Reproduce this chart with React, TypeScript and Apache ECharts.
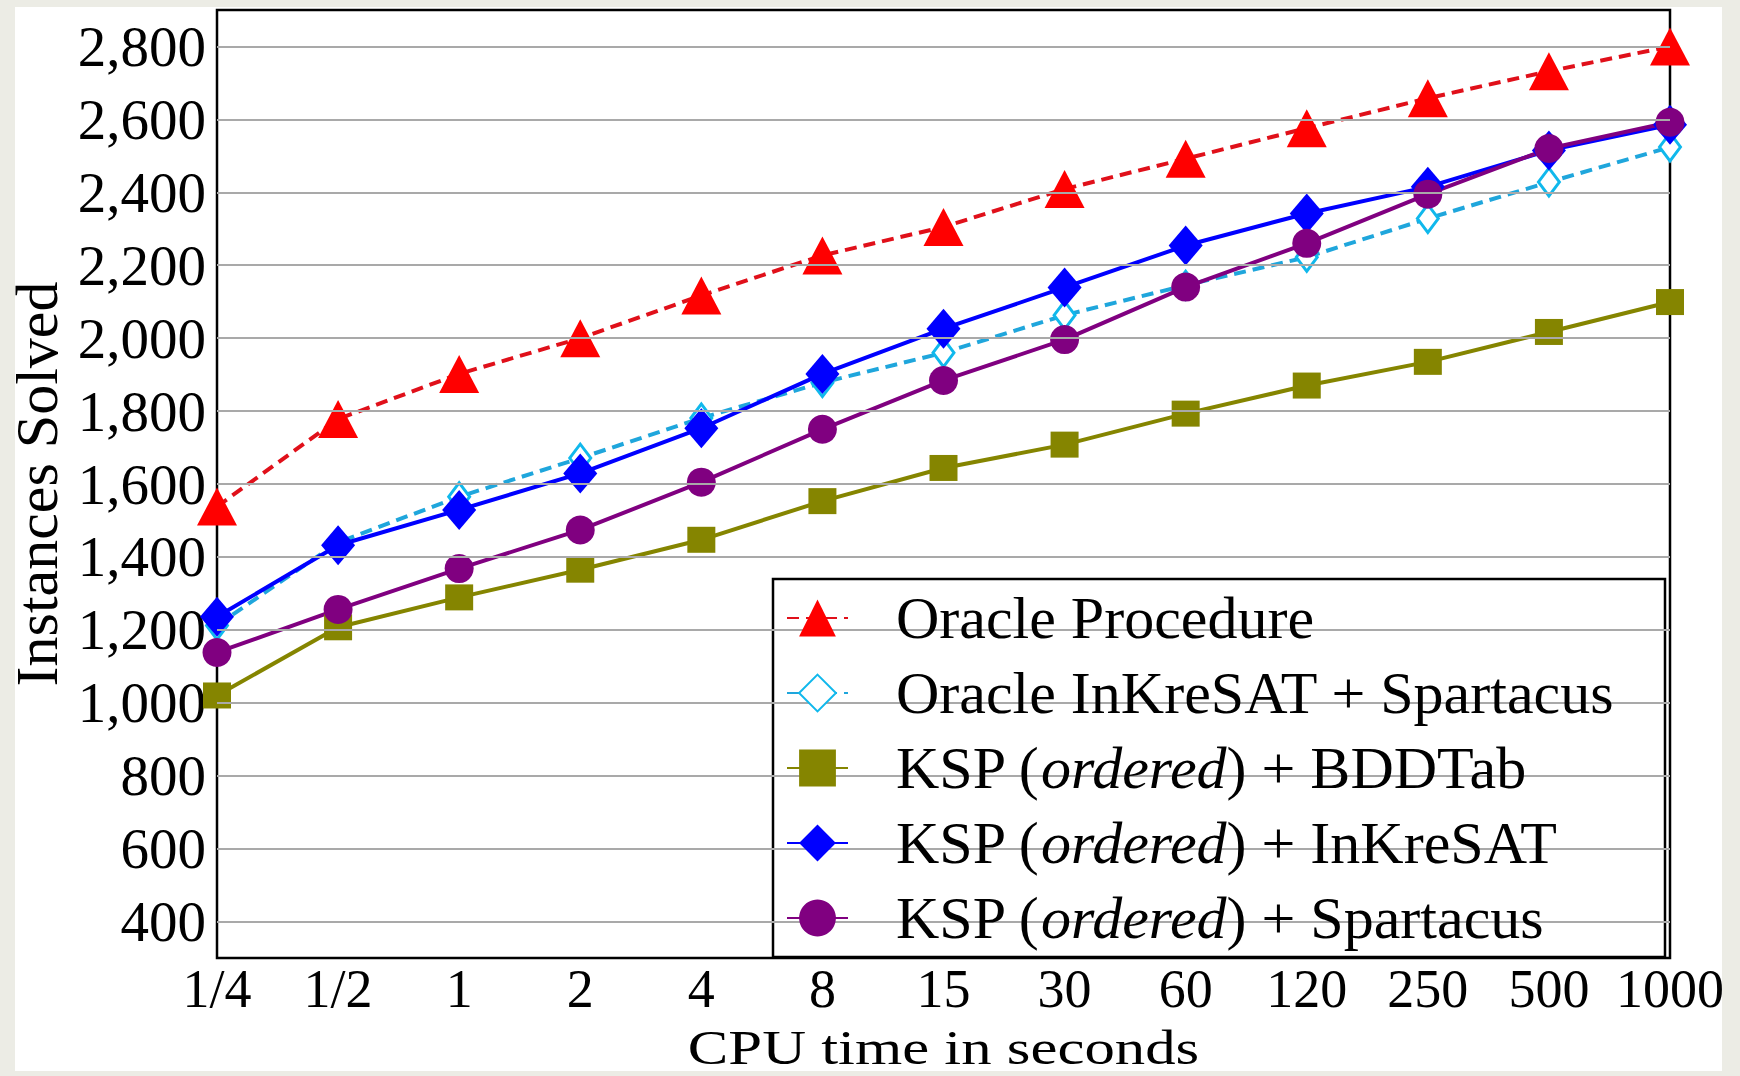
import React, { useEffect, useRef } from 'react';
import * as echarts from 'echarts';

const cpuTimes = ['1/4', '1/2', '1', '2', '4', '8', '15', '30', '60', '120', '250', '500', '1000'];
const oracleProcedure = [1538, 1778, 1902, 2000, 2117, 2227, 2305, 2409, 2492, 2576, 2658, 2732, 2800];
const oracleInkSpartacus = [1212, 1440, 1565, 1671, 1781, 1878, 1960, 2063, 2145, 2222, 2328, 2428, 2524];
const kspBddtab = [1020, 1207, 1289, 1365, 1447, 1553, 1644, 1708, 1793, 1870, 1935, 2017, 2099];
const kspInkresat = [1236, 1432, 1529, 1629, 1753, 1902, 2026, 2139, 2254, 2342, 2415, 2515, 2585];
const kspSpartacus = [1138, 1256, 1368, 1474, 1605, 1750, 1884, 1996, 2140, 2260, 2395, 2520, 2592];
const yGridValues = [400, 600, 800, 1000, 1200, 1400, 1600, 1800, 2000, 2200, 2400, 2600, 2800];
const xAxisTitle = 'CPU time in seconds';
const yAxisTitle = 'Instances Solved';

const SERIF = '"Liberation Serif", "Times New Roman", serif';
const FRAME = '#ecece5';

function fmtThousands(v: number): string {
  return String(v).replace(/\B(?=(\d{3})+(?!\d))/g, ',');
}

export default function App() {
  const ref = useRef<HTMLDivElement>(null);
  useEffect(() => {
    document.body.style.margin = '0';
    const chart = echarts.init(ref.current!, null, { renderer: 'svg' });
    const gridLeft = 217;
    const gridRight = 70;
    const option: any = {
      animation: false,
      backgroundColor: '#ffffff',
      grid: {
        left: gridLeft,
        right: gridRight,
        top: 10,
        bottom: 118,
        show: true,
        borderColor: '#000',
        borderWidth: 2.5,
        backgroundColor: '#fff',
        containLabel: false,
        outerBoundsMode: 'none',
      },
      xAxis: {
        type: 'category',
        data: cpuTimes,
        boundaryGap: false,
        axisLine: { show: false },
        axisTick: { show: false },
        splitLine: { show: false },
        axisLabel: { fontFamily: SERIF, fontSize: 54, lineHeight: 60, color: '#000', margin: 1, interval: 0 },
      },
      yAxis: {
        type: 'value',
        min: 300,
        max: 2900,
        interval: 100,
        name: yAxisTitle,
        nameLocation: 'middle',
        nameGap: 150,
        nameMoveOverlap: false,
        nameRotate: 90,
        nameTextStyle: { fontFamily: SERIF, fontSize: 60, color: '#000' },
        axisLine: { show: false },
        axisTick: { show: false },
        splitLine: { show: false },
        axisLabel: {
          fontFamily: SERIF,
          fontSize: 57,
          color: '#000',
          margin: 11,
          formatter: (v: number) => (v % 200 === 0 && v >= 400 && v <= 2800 ? fmtThousands(v) : ''),
        },
      },
      legend: {
        orient: 'vertical',
        left: 786,
        top: 588,
        padding: 0,
        itemWidth: 61,
        itemHeight: 46,
        itemGap: 15,
        z: 6,
        data: [
          'Oracle Procedure',
          'Oracle InKreSAT + Spartacus',
          'KSP (ordered) + BDDTab',
          'KSP (ordered) + InKreSAT',
          'KSP (ordered) + Spartacus',
        ],
        formatter: (name: string) => name.replace('ordered', '{it|ordered}'),
        textStyle: {
          fontFamily: SERIF,
          fontSize: 60,
          lineHeight: 60,
          color: '#000',
          padding: [0, 0, 0, 43],
          rich: {
            it: { fontFamily: SERIF, fontSize: 60, lineHeight: 60, fontStyle: 'italic', color: '#000' },
          },
        },
      },
      graphic: [
        {
          type: 'rect',
          z: 5,
          shape: { x: 773, y: 579, width: 892, height: 378 },
          style: { fill: '#fff', stroke: '#000', lineWidth: 2.5 },
        },
        { type: 'rect', z: 100, shape: { x: 0, y: 0, width: 15, height: 1076 }, style: { fill: FRAME } },
        { type: 'rect', z: 100, shape: { x: 1722, y: 0, width: 18, height: 1076 }, style: { fill: FRAME } },
        { type: 'rect', z: 100, shape: { x: 0, y: 0, width: 1740, height: 7 }, style: { fill: FRAME } },
        { type: 'rect', z: 100, shape: { x: 0, y: 1071, width: 1740, height: 5 }, style: { fill: FRAME } },
        {
          type: 'text',
          z: 10,
          x: (gridLeft + (1740 - gridRight)) / 2,
          y: 1023,
          scaleX: 1.24,
          style: {
            text: xAxisTitle,
            x: 0,
            y: 0,
            fontFamily: SERIF,
            fontSize: 49,
            fill: '#000',
            align: 'center',
            verticalAlign: 'top',
          },
        },
      ],
      series: [
        {
          name: 'gridlines',
          type: 'line',
          data: [],
          z: 1,
          silent: true,
          markLine: {
            silent: true,
            symbol: ['none', 'none'],
            label: { show: false },
            lineStyle: { color: '#a9a9a9', width: 2, type: 'solid' },
            data: yGridValues.map((v) => ({ yAxis: v })),
          },
        },
        {
          name: 'Oracle Procedure',
          type: 'line',
          data: oracleProcedure,
          z: 3,
          symbol: 'triangle',
          symbolSize: [40, 38],
          itemStyle: { color: '#ff0000' },
          lineStyle: { color: '#e0101a', width: 4, type: [12, 7] },
        },
        {
          name: 'Oracle InKreSAT + Spartacus',
          type: 'line',
          data: oracleInkSpartacus,
          z: 3,
          symbol: 'diamond',
          symbolSize: [21, 28],
          itemStyle: { color: '#ffffff', borderColor: '#10b8ec', borderWidth: 3 },
          lineStyle: { color: '#1fa6dc', width: 4, type: [12, 7] },
        },
        {
          name: 'KSP (ordered) + BDDTab',
          type: 'line',
          data: kspBddtab,
          z: 3,
          symbol: 'rect',
          symbolSize: [28, 26],
          itemStyle: { color: '#858500' },
          lineStyle: { color: '#858500', width: 4 },
        },
        {
          name: 'KSP (ordered) + InKreSAT',
          type: 'line',
          data: kspInkresat,
          z: 3,
          symbol: 'diamond',
          symbolSize: [34, 40],
          itemStyle: { color: '#0000ff' },
          lineStyle: { color: '#0000ff', width: 4 },
        },
        {
          name: 'KSP (ordered) + Spartacus',
          type: 'line',
          data: kspSpartacus,
          z: 3,
          symbol: 'circle',
          symbolSize: 29,
          itemStyle: { color: '#800080' },
          lineStyle: { color: '#800080', width: 4 },
        },
      ],
    };
    chart.setOption(option);
    return () => chart.dispose();
  }, []);
  return <div ref={ref} style={{ width: 1740, height: 1076 }} />;
}
